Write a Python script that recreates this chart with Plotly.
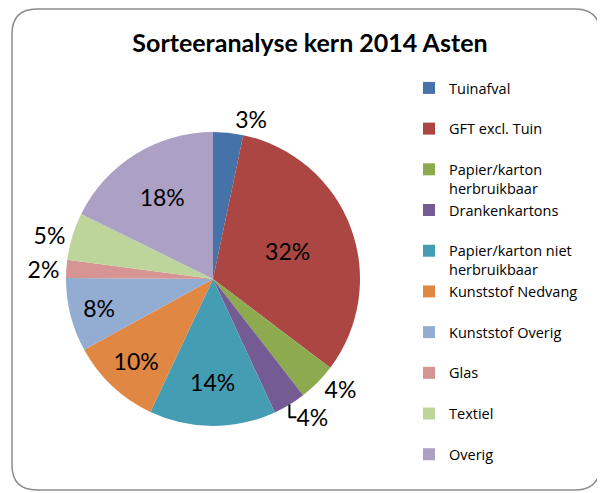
import plotly.graph_objects as go

# Sorteeranalyse kern 2014 Asten - aandeel per fractie (%)
labels = ["Tuinafval", "GFT excl. Tuin", "Papier/karton<br>herbruikbaar", "Drankenkartons",
          "Papier/karton niet<br>herbruikbaar", "Kunststof Nedvang", "Kunststof Overig",
          "Glas", "Textiel", "Overig"]
values = [3.3, 32.0, 4.2, 3.6, 13.9, 10.0, 8.1, 2.0, 5.2, 17.7]
colors = ["#4672AA", "#AC4642", "#8DAA4F", "#745B94", "#459DB3",
          "#E08744", "#93ACD2", "#D69593", "#BDD59B", "#ACA0C5"]
positions = ["outside", "inside", "outside", "outside", "inside",
             "inside", "inside", "outside", "outside", "inside"]

# single-line entries get an empty second line so every slot has the same height
legend_labels = [l if ("<br>" in l or l == labels[-1]) else l + "<br> " for l in labels]

W, H = 605, 493
# the page body has an 8px margin, so aim 8px up/left of the reference positions
cx, cy, r = 205, 271, 147

fig = go.Figure(go.Pie(
    labels=legend_labels, values=values, sort=False, direction="clockwise", rotation=0,
    marker=dict(colors=colors, line=dict(width=0)),
    textinfo="percent", texttemplate="%{percent:.0%}",
    textposition=positions, insidetextorientation="horizontal",
    textfont=dict(family="Lato", size=23, color="black"),
    domain=dict(x=[(cx - r) / W, (cx + r) / W], y=[1 - (cy + r) / H, 1 - (cy - r) / H]),
))

# rounded chart border
rx, ry = 25 / W, 25 / H
x0, x1, y0, y1 = 4 / W, 592 / W, 1 - 482 / H, 1 - 1 / H
border = (f"M {x0 + rx},{y1} L {x1 - rx},{y1} Q {x1},{y1} {x1},{y1 - ry} "
          f"L {x1},{y0 + ry} Q {x1},{y0} {x1 - rx},{y0} L {x0 + rx},{y0} "
          f"Q {x0},{y0} {x0},{y0 + ry} L {x0},{y1 - ry} Q {x0},{y1} {x0 + rx},{y1} Z")

fig.update_layout(
    width=W, height=H,
    margin=dict(l=0, r=0, t=0, b=0, autoexpand=False),
    paper_bgcolor="white",
    font=dict(family="Lato", color="black"),
    title=dict(text="<b>Sorteeranalyse kern 2014 Asten</b>", x=302 / W, xanchor="center",
               y=1 - 35 / H, yanchor="middle", font=dict(size=25)),
    legend=dict(x=401 / W, y=1 - 64 / H, xanchor="left", yanchor="top",
                valign="top", font=dict(family="Open Sans", size=14.5), itemclick=False),
    shapes=[dict(type="path", path=border, xref="paper", yref="paper",
                 line=dict(color="#8c8c8c", width=1.5))],
)

fig.write_html("out.html")
